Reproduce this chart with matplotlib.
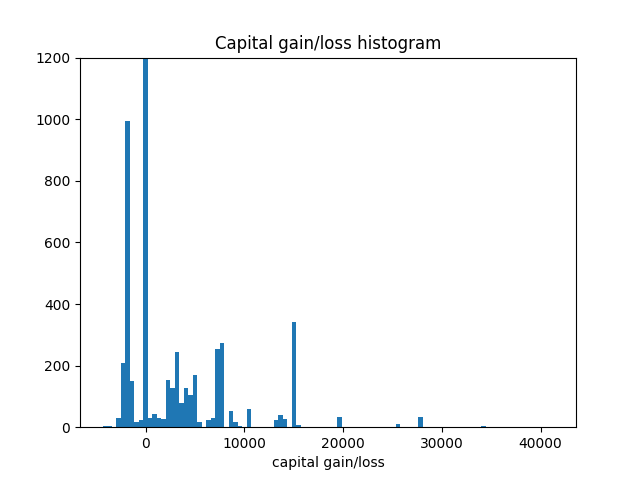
import numpy as np
import matplotlib.pyplot as plt

# histogram of capital gain minus capital loss, 100 equal bins
x_min, x_max = -4356, 41310
n_bins = 100

# nonzero bin counts: {bin index: count}
bin_idx = [0, 1, 3, 4, 5, 6, 7, 8, 9, 10, 11, 12, 13, 14, 15, 16, 17, 18, 19, 20,
           21, 23, 24, 25, 26, 28, 29, 30, 32, 38, 39, 40, 42, 43, 52, 65, 70, 84]
bin_cnt = [3, 3, 29, 209, 993, 150, 17, 22, 1600, 29, 42, 29, 26, 153, 127, 244, 78, 127, 104, 169,
           17, 22, 29, 254, 273, 52, 18, 3, 58, 23, 39, 26, 342, 6, 32, 10, 32, 3]

edges = np.linspace(x_min, x_max, n_bins + 1)
counts = np.zeros(n_bins)
counts[bin_idx] = bin_cnt
centers = (edges[:-1] + edges[1:]) / 2

fig, ax = plt.subplots(figsize=(6.4, 4.8), dpi=100)
ax.hist(centers, bins=edges, weights=counts, color="#1f77b4")
ax.set_ylim(0, 1200)
ax.set_title("Capital gain/loss histogram")
ax.set_xlabel("capital gain/loss")
fig.savefig("out.png", dpi=100)
